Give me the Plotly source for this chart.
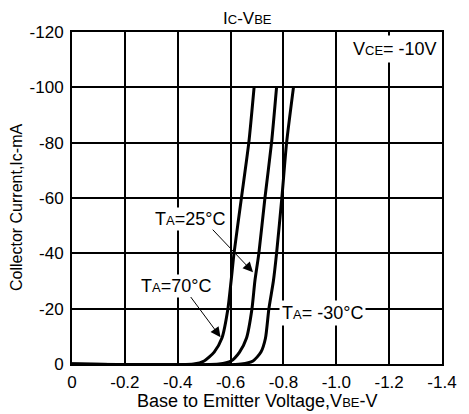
import plotly.graph_objects as go

# Data (VBE in V, Ic in mA)
ic_levels = [0, 0, -1.1, -4.3, -9.3, -20, -30, -40, -60, -80, -100]
vbe_70 = [0, -0.46, -0.50, -0.538, -0.567, -0.59, -0.602, -0.613, -0.641, -0.669, -0.689]
vbe_25 = [0, -0.556, -0.602, -0.634, -0.66, -0.681, -0.692, -0.707, -0.730, -0.755, -0.774]
vbe_m30 = [0, -0.64, -0.685, -0.715, -0.732, -0.745, -0.762, -0.774, -0.794, -0.812, -0.838]

x_ticks = [0, -0.2, -0.4, -0.6, -0.8, -1.0, -1.2, -1.4]
x_tick_labels = ["0", "-0.2", "-0.4", "-0.6", "-0.8", "-1.0", "-1.2", "-1.4"]
y_ticks = [0, -20, -40, -60, -80, -100, -120]
y_tick_labels = ["0", "-20", "-40", "-60", "-80", "-100", "-120"]

FONT = "Liberation Sans, Arial, sans-serif"


def small(s, size=13):
    return "<span style='font-size:%dpx'>%s</span>" % (size, s)


fig = go.Figure()
for v in (vbe_70, vbe_25, vbe_m30):
    fig.add_trace(go.Scatter(
        x=v, y=ic_levels, mode="lines",
        line=dict(color="black", width=3, shape="spline", smoothing=0.6),
        showlegend=False, hoverinfo="skip"))

axis_common = dict(showgrid=True, gridcolor="black", gridwidth=1.5,
                   showline=True, linecolor="black", linewidth=2, mirror=True,
                   zeroline=False, ticks="", tickfont=dict(family=FONT, size=17, color="black"))

fig.update_xaxes(range=[0, -1.4], tickvals=x_ticks, ticktext=x_tick_labels,
                 ticklabelstandoff=2, **axis_common)
fig.update_yaxes(range=[0, -120], tickvals=y_ticks, ticktext=y_tick_labels,
                 ticklabelstandoff=3, **axis_common)

f17 = dict(family=FONT, size=17, color="black")
f18 = dict(family=FONT, size=18, color="black")

annotations = [
    # title
    dict(text="I" + small("C") + "-V" + small("BE"), xref="paper", yref="paper",
         x=0.475, y=1.04, xanchor="center", yanchor="middle", showarrow=False, font=f17),
    # axis titles
    dict(text="Base to Emitter Voltage,V" + small("BE") + "-V", xref="paper", yref="paper",
         x=0.5, y=-0.11, xanchor="center", yanchor="middle", showarrow=False, font=f18),
    dict(text="Collector Current,Ic-mA", xref="paper", yref="paper", textangle=-90,
         x=-0.1485, y=0.47, xanchor="center", yanchor="middle", showarrow=False,
         font=dict(family=FONT, size=16, color="black")),
    # VCE box
    dict(text="V" + small("CE") + "= -10V", xref="paper", yref="y",
         x=0.997, y=-113.8, xanchor="right", yanchor="middle", showarrow=False,
         bgcolor="white", borderpad=3, font=f18),
    # -30 label
    dict(text="T" + small("A") + "= -30°C", x=-0.946, y=-18.5, xanchor="center",
         yanchor="middle", showarrow=False, bgcolor="white", borderpad=2, font=f18),
    # 25 label + arrow
    dict(text="T" + small("A") + "=25°C", x=-0.445, y=-52.3, xanchor="center",
         yanchor="middle", showarrow=False, bgcolor="white", font=f18),
    dict(text="", x=-0.685, y=-33.2, ax=-0.527, ay=-49.1, axref="x", ayref="y",
         showarrow=True, arrowhead=2, arrowsize=2.0, arrowwidth=1, arrowcolor="black"),
    # 70 label + arrow
    dict(text="T" + small("A") + "=70°C", x=-0.395, y=-28.3, xanchor="center",
         yanchor="middle", showarrow=False, bgcolor="white", font=f18),
    dict(text="", x=-0.562, y=-9.7, ax=-0.445, ay=-24.75, axref="x", ayref="y",
         showarrow=True, arrowhead=2, arrowsize=2.0, arrowwidth=1, arrowcolor="black"),
]

# The page places the figure 8px from the top-left corner, so the figure is
# sized to fill the rest of the 469x414 window.
fig.update_layout(
    width=461, height=406,
    margin=dict(l=64, r=20, t=24, b=50),
    paper_bgcolor="white", plot_bgcolor="white",
    font=dict(family=FONT, color="black"),
    annotations=annotations,
)

fig.write_html("out.html")
